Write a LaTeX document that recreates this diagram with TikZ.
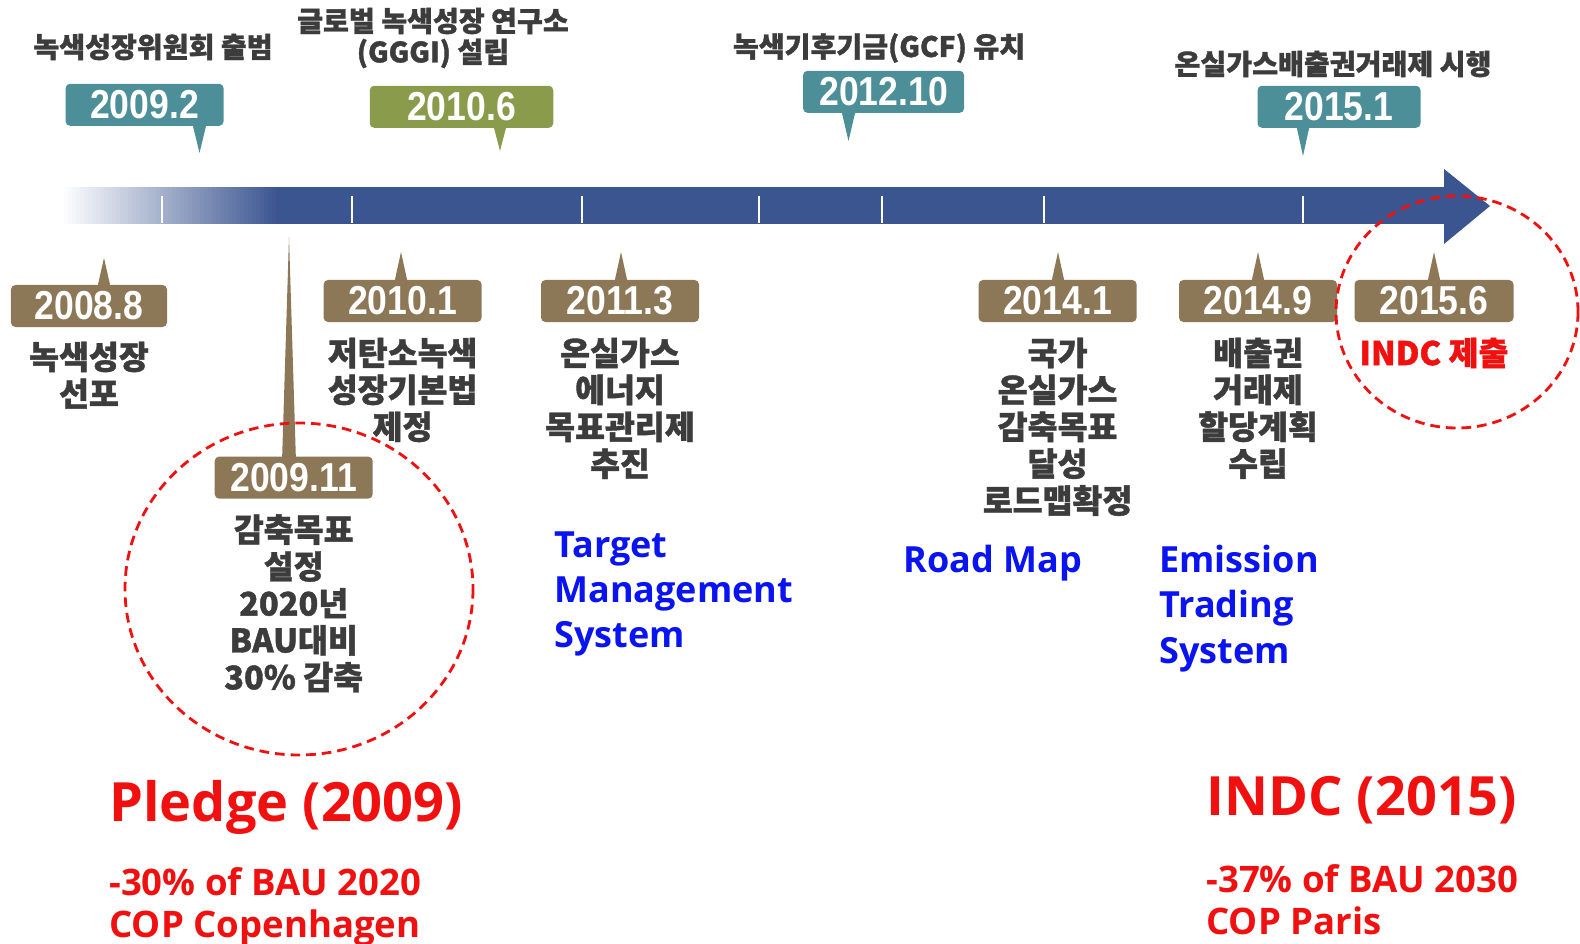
\documentclass[tikz,border=0pt]{standalone}
\usepackage{fontspec}
\setmainfont{Open Sans}
\newfontfamily\krfont{Noto Sans CJK KR}[BoldFeatures={FakeBold=1.2}]
\newfontfamily\datefont{Liberation Sans}[FakeStretch=0.88]
\usetikzlibrary{positioning}

\definecolor{barblue}{HTML}{3B5591}
\definecolor{tealbox}{HTML}{4C8F98}
\definecolor{greenbox}{HTML}{8A9C4C}
\definecolor{brownbox}{HTML}{8C7757}
\definecolor{krgray}{HTML}{3C3C3C}
\definecolor{engblue}{HTML}{0A14F0}
\definecolor{engred}{HTML}{F01010}

\tikzset{
  datebox/.style={rounded corners=2.5pt, minimum height=8.4mm, inner sep=0pt, text=white,
    font=\datefont\bfseries\fontsize{23}{26}\selectfont},
  evtext/.style={align=center, inner sep=0pt, text=krgray,
    font=\krfont\bfseries\fontsize{18.5}{21}\selectfont},
  toptext/.style={align=center, inner sep=0pt, text=krgray,
    font=\krfont\bfseries\fontsize{16}{17.6}\selectfont},
  engtext/.style={align=left, anchor=north west, inner sep=0pt, text=engblue,
    font=\bfseries\fontsize{20.5}{25.7}\selectfont},
  bigred/.style={anchor=north west, inner sep=0pt, text=engred,
    font=\bfseries\fontsize{30.8}{36}\selectfont},
  smallred/.style={align=left, anchor=north west, inner sep=0pt, text=engred,
    font=\bfseries\fontsize{20.8}{24}\selectfont},
  focus/.style={draw=engred, line width=1.6pt, dash pattern=on 5.5pt off 3.4pt},
}

\begin{document}
\begin{tikzpicture}[x=0.2mm, y=-0.2mm]
  \useasboundingbox (0,0) rectangle (1580,944);

  % timeline
  \foreach \i [evaluate=\i as \p using 100*\i/54] in {0,...,54}
    \fill[barblue!\p] (60+4*\i,187) rectangle (64.5+4*\i,224);
  \fill[barblue] (276,187) rectangle (1445,224);
  \fill[barblue] (1444,169) -- (1490,206) -- (1444,244) -- cycle;
  \foreach \x in {162,352,582,759,882,1044,1303}
    \draw[white, line width=1.1pt] (\x,196) -- (\x,223);

  % upper events
  \node[toptext] (l2009a) at (153,47) {녹색성장위원회 출범};
  \node[datebox, fill=tealbox, minimum width=31.6mm] (d2009a) at (144.6,104.8) {2009.2};
  \fill[tealbox] (192,122) -- (199.5,153) -- (207,122) -- cycle;

  \node[toptext] (l2010b) at (433,38) {글로벌 녹색성장 연구소\\(GGGI) 설립};
  \node[datebox, fill=greenbox, minimum width=36.7mm] (d2010b) at (461.5,106.8) {2010.6};
  \fill[greenbox] (493,124) -- (500,151) -- (507,124) -- cycle;

  \node[toptext] (l2012) at (879,48) {녹색기후기금(GCF) 유치};
  \node[datebox, fill=tealbox, minimum width=32.2mm] (d2012) at (883.6,91.8) {2012.10};
  \fill[tealbox] (841,109) -- (848.5,141) -- (856,109) -- cycle;

  \node[toptext] (l2015a) at (1333,64) {온실가스배출권거래제 시행};
  \node[datebox, fill=tealbox, minimum width=32.6mm] (d2015a) at (1339,106.8) {2015.1};
  \fill[tealbox] (1296,124) -- (1303,156) -- (1310,124) -- cycle;

  % lower events
  \node[datebox, fill=brownbox, minimum width=31.2mm] (d2008) at (89,306) {2008.8};
  \fill[brownbox] (97,289) -- (104,258) -- (111,289) -- cycle;
  \node[evtext, below=2.8mm of d2008] (t2008) {녹색성장\\선포};

  \node[datebox, fill=brownbox, minimum width=31.6mm] (d2010a) at (402.6,301) {2010.1};
  \fill[brownbox] (394,284) -- (401,252) -- (408,284) -- cycle;
  \node[evtext, below=3mm of d2010a] (t2010a) {저탄소녹색\\성장기본법\\제정};

  \node[datebox, fill=brownbox, minimum width=31.6mm] (d2011) at (620,301) {2011.3};
  \fill[brownbox] (614,284) -- (621,252) -- (628,284) -- cycle;
  \node[evtext, below=3mm of d2011] (t2011) {온실가스\\에너지\\목표관리제\\추진};

  \node[datebox, fill=brownbox, minimum width=31.6mm] (d2014a) at (1057.6,301) {2014.1};
  \fill[brownbox] (1051,284) -- (1058,252) -- (1065,284) -- cycle;
  \node[evtext, below=3mm of d2014a] (t2014a) {국가\\온실가스\\감축목표\\달성\\로드맵확정};

  \node[datebox, fill=brownbox, minimum width=31.6mm] (d2014b) at (1258,301) {2014.9};
  \fill[brownbox] (1251,284) -- (1258,252) -- (1265,284) -- cycle;
  \node[evtext, below=3mm of d2014b] (t2014b) {배출권\\거래제\\할당계획\\수립};

  \node[datebox, fill=brownbox, minimum width=31.8mm] (d2015b) at (1434,301) {2015.6};
  \fill[brownbox] (1427,284) -- (1434,252) -- (1441,284) -- cycle;
  \node[evtext, text=engred, below=3mm of d2015b] (t2015b) {INDC 제출};

  \node[datebox, fill=brownbox, minimum width=31.6mm] (d2009b) at (293.7,477.6) {2009.11};
  \fill[brownbox] (282,462) -- (289,237) -- (296,462) -- cycle;
  \node[evtext, below=3mm of d2009b] (t2009b) {감축목표\\설정\\2020년\\BAU대비\\30\% 감축};

  % highlights
  \draw[focus] (299,589) ellipse [x radius=174, y radius=166];
  \draw[focus] (1457,312) ellipse [x radius=121, y radius=116];

  % english notes
  \node[engtext] (tms) at (554,531) {Target\\Management\\System};
  \node[engtext] (rmap) at (903,545) {Road Map};
  \node[engtext] (ets) at (1159,545) {Emission\\Trading\\System};

  \node[bigred] (pledge) at (109,780) {Pledge (2009)};
  \node[smallred] (pledgenote) at (109,867) {-30\% of BAU 2020\\COP Copenhagen};
  \node[bigred] (indc) at (1206,776) {INDC (2015)};
  \node[smallred] (indcnote) at (1206,864) {-37\% of BAU 2030\\COP Paris};
\end{tikzpicture}
\end{document}
